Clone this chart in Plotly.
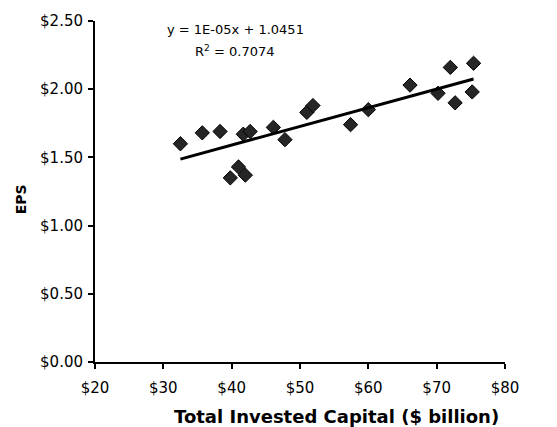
import numpy as np
import plotly.graph_objects as go

# Total invested capital ($ billion) and EPS ($) per year
capital = [32.5, 35.7, 38.3, 41.7, 42.7, 46.1, 47.8, 39.8, 41.0, 42.0,
           51.0, 51.9, 57.4, 60.0, 66.1, 70.2, 72.0, 72.7, 75.4, 75.2]
eps = [1.60, 1.68, 1.69, 1.67, 1.69, 1.72, 1.63, 1.35, 1.43, 1.37,
       1.83, 1.88, 1.74, 1.85, 2.03, 1.97, 2.16, 1.90, 2.19, 1.98]

x_ticks = [20, 30, 40, 50, 60, 70, 80]
x_tick_text = ["$20", "$30", "$40", "$50", "$60", "$70", "$80"]
y_ticks = [0.0, 0.5, 1.0, 1.5, 2.0, 2.5]
y_tick_text = ["$0.00", "$0.50", "$1.00", "$1.50", "$2.00", "$2.50"]

equation_text = "y = 1E-05x + 1.0451"
r2_text = "R<sup>2</sup> = 0.7074"
x_title = "<b>Total Invested Capital ($ billion)</b>"
y_title = "<b>EPS</b>"

# Linear trend fitted across the data range
slope, intercept = np.polyfit(capital, eps, 1)
trend_x = [min(capital), max(capital)]
trend_y = [slope * v + intercept for v in trend_x]

font_family = "DejaVu Sans, Arial, sans-serif"

fig = go.Figure()
fig.add_trace(go.Scatter(
    x=capital, y=eps, mode="markers",
    marker=dict(symbol="diamond", size=11, color="#262626",
                line=dict(color="black", width=1)),
    showlegend=False,
))
fig.add_trace(go.Scatter(
    x=trend_x, y=trend_y, mode="lines",
    line=dict(color="black", width=3),
    showlegend=False,
))

# Trend equation and fit quality
fig.add_annotation(
    x=0.342, y=0.975, xref="paper", yref="paper", xanchor="center", yanchor="middle",
    text=equation_text, showarrow=False,
    font=dict(family=font_family, size=13, color="black"),
)
fig.add_annotation(
    x=0.342, y=0.912, xref="paper", yref="paper", xanchor="center", yanchor="middle",
    text=r2_text, showarrow=False,
    font=dict(family=font_family, size=13, color="black"),
)

# Axis titles
fig.add_annotation(
    x=0.588, y=-0.159, xref="paper", yref="paper", xanchor="center", yanchor="middle",
    text=x_title, showarrow=False,
    font=dict(family=font_family, size=18, color="black"),
)
fig.add_annotation(
    x=-0.180, y=0.478, xref="paper", yref="paper", xanchor="center", yanchor="middle",
    text=y_title, showarrow=False, textangle=-90,
    font=dict(family=font_family, size=14, color="black"),
)

fig.update_layout(
    width=557, height=427,
    margin=dict(l=95, r=52, t=17, b=65),
    paper_bgcolor="white", plot_bgcolor="white",
    font=dict(family=font_family, color="black"),
)
fig.update_xaxes(
    range=[20, 80], tickvals=x_ticks, ticktext=x_tick_text,
    showgrid=False, zeroline=False, showline=True, linecolor="black", linewidth=2,
    ticks="outside", ticklen=5, tickwidth=1.5, tickcolor="black",
    tickfont=dict(size=15), ticklabelstandoff=6,
)
fig.update_yaxes(
    range=[0, 2.5], tickvals=y_ticks, ticktext=y_tick_text,
    showgrid=False, zeroline=False, showline=True, linecolor="black", linewidth=2,
    ticks="outside", ticklen=5, tickwidth=1.5, tickcolor="black",
    tickfont=dict(size=15), ticklabelstandoff=2,
)

fig.write_html("out.html")
